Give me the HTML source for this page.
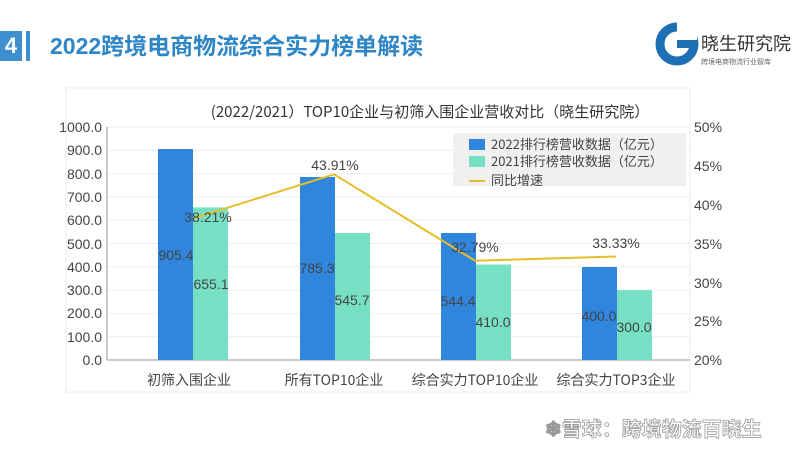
<!DOCTYPE html>
<html><head><meta charset="utf-8"><style>
body{margin:0;width:800px;height:450px;overflow:hidden;background:#fff;font-family:"Liberation Sans","Noto Sans CJK SC",sans-serif;position:relative}
.a{position:absolute}
</style></head><body>
<div class="a" style="left:0;top:31px;width:22px;height:30px;background:#3d8fd0;color:#fff;font-weight:bold;font-size:22px;text-align:center;line-height:30px">4</div>
<div class="a" style="left:26px;top:31px;width:4px;height:30px;background:#3d8fd0"></div>
<div class="a" style="left:50px;top:30px;font-size:23px;font-weight:bold;color:#2f86c6;line-height:32px">2022跨境电商物流综合实力榜单解读</div>
<svg class="a" style="left:655px;top:22px" width="140" height="50">
<circle cx="22" cy="22" r="17" fill="none" stroke="#1f6fb5" stroke-width="9"/>
<rect x="22" y="18" width="18" height="8" fill="#1f6fb5"/>
<rect x="22" y="0" width="20" height="18" fill="#fff"/>
<text x="46" y="28" font-size="18" fill="#333" font-family="Noto Sans CJK SC">晓生研究院</text>
<text x="46" y="42" font-size="7" fill="#666" font-family="Noto Sans CJK SC">跨境电商物流行业智库</text>
</svg>
<svg class="a" style="left:0;top:0" width="800" height="450" font-family="Liberation Sans, Noto Sans CJK SC, sans-serif">
<rect x="66" y="88" width="624" height="304" fill="#fff" stroke="#eee"/>
<text x="430" y="117" font-size="15" fill="#333" text-anchor="middle" font-family="Noto Sans CJK SC">(2022/2021）TOP10企业与初筛入围企业营收对比（晓生研究院）</text>
<g stroke="#eee">
<line x1="107" x2="690" y1="127" y2="127"/><line x1="107" x2="690" y1="150.3" y2="150.3"/><line x1="107" x2="690" y1="173.6" y2="173.6"/><line x1="107" x2="690" y1="196.9" y2="196.9"/><line x1="107" x2="690" y1="220.2" y2="220.2"/><line x1="107" x2="690" y1="243.5" y2="243.5"/><line x1="107" x2="690" y1="266.8" y2="266.8"/><line x1="107" x2="690" y1="290.1" y2="290.1"/><line x1="107" x2="690" y1="313.4" y2="313.4"/><line x1="107" x2="690" y1="336.7" y2="336.7"/>
</g>
<line x1="107" x2="107" y1="127" y2="360" stroke="#999"/>
<line x1="107" x2="690" y1="360" y2="360" stroke="#999"/>
<g font-size="14" fill="#444" text-anchor="end">
<text x="102" y="132">1000.0</text><text x="102" y="155">900.0</text><text x="102" y="179">800.0</text><text x="102" y="202">700.0</text><text x="102" y="225">600.0</text><text x="102" y="249">500.0</text><text x="102" y="272">400.0</text><text x="102" y="295">300.0</text><text x="102" y="318">200.0</text><text x="102" y="342">100.0</text><text x="102" y="365">0.0</text>
</g>
<g font-size="14" fill="#444">
<text x="694" y="132">50%</text><text x="694" y="171">45%</text><text x="694" y="210">40%</text><text x="694" y="249">35%</text><text x="694" y="288">30%</text><text x="694" y="326">25%</text><text x="694" y="365">20%</text>
</g>
<g fill="#2f86dc">
<rect x="158" y="149" width="35" height="211"/><rect x="300" y="177" width="35" height="183"/><rect x="441" y="233" width="35" height="127"/><rect x="582" y="267" width="35" height="93"/>
</g>
<g fill="#77e0c4">
<rect x="193" y="207.4" width="35" height="152.6"/><rect x="335" y="232.9" width="35" height="127.1"/><rect x="476" y="264.5" width="35" height="95.5"/><rect x="617" y="290.1" width="35" height="69.9"/>
</g>
<polyline points="193,218.6 334,174.3 475,260.7 616,256.5" fill="none" stroke="#e6be2a" stroke-width="2"/>
<g font-size="14" fill="#444" text-anchor="middle">
<text x="176" y="260">905.4</text><text x="211" y="289">655.1</text>
<text x="317" y="273">785.3</text><text x="352" y="305">545.7</text>
<text x="458" y="306">544.4</text><text x="493" y="327">410.0</text>
<text x="599" y="321">400.0</text><text x="634" y="332">300.0</text>
<text x="208" y="222">38.21%</text><text x="335" y="170">43.91%</text><text x="475" y="252">32.79%</text><text x="616" y="248">33.33%</text>
<text x="189" y="385" font-family="Noto Sans CJK SC">初筛入围企业</text><text x="334" y="385" font-family="Noto Sans CJK SC">所有TOP10企业</text><text x="475" y="385" font-family="Noto Sans CJK SC">综合实力TOP10企业</text><text x="616" y="385" font-family="Noto Sans CJK SC">综合实力TOP3企业</text>
</g>
<rect x="453" y="133" width="233" height="53" fill="#f0f0f0"/>
<rect x="469" y="139" width="16" height="11" fill="#2f86dc"/>
<rect x="469" y="156" width="16" height="11" fill="#77e0c4"/>
<line x1="469" x2="485" y1="181" y2="181" stroke="#e6be2a" stroke-width="2"/>
<g font-size="13" fill="#444" font-family="Noto Sans CJK SC">
<text x="491" y="149">2022排行榜营收数据（亿元）</text><text x="491" y="166">2021排行榜营收数据（亿元）</text><text x="491" y="185">同比增速</text>
</g>
<text x="545" y="436" font-size="20" font-weight="bold" fill="#fff" stroke="#999" stroke-width="0.8" font-family="Noto Sans CJK SC">❄雪球：跨境物流百晓生</text>
</svg>
</body></html>
